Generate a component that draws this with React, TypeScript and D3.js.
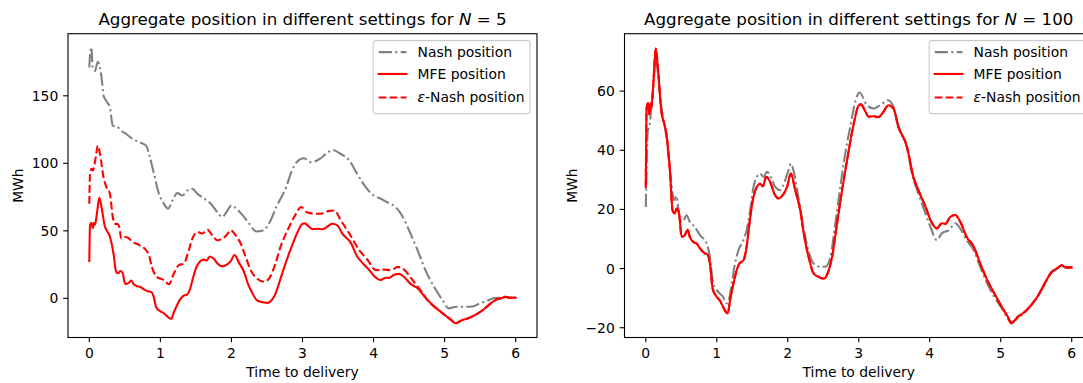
import React, { useMemo } from 'react';
import * as d3 from 'd3';

type Pt = [number, number];

// ---------- data (time to delivery, MWh) ----------
const xTicks = [0, 1, 2, 3, 4, 5, 6];
const yTicksN5 = [0, 50, 100, 150];
const yTicksN100 = [-20, 0, 20, 40, 60];
const xDomain: [number, number] = [-0.3, 6.3];
const yDomainN5: [number, number] = [-29, 196];
const yDomainN100: [number, number] = [-23.3, 79.4];

const mfe: Pt[] = [
  [0, 27.6], [0.01, 54], [0.03, 56], [0.05, 52], [0.065, 56], [0.08, 54.5], [0.11, 64], [0.14, 74.4],
  [0.17, 68], [0.22, 53], [0.26, 49], [0.29, 45.6], [0.34, 33.2], [0.377, 19.7], [0.41, 18.6],
  [0.433, 20.3], [0.466, 19.2], [0.504, 10.7], [0.55, 11.3], [0.59, 13.2], [0.62, 10.7], [0.67, 9.0],
  [0.716, 8.5], [0.763, 6.8], [0.834, 5.1], [0.867, 4.8], [0.904, 1.7], [0.942, -6.8], [1.0, -9.6],
  [1.046, -10.9], [1.09, -13], [1.14, -15], [1.154, -15.2], [1.187, -10.7], [1.234, -5.1], [1.28, -0.6],
  [1.319, 1.7], [1.375, 2.8], [1.42, 7.3], [1.46, 15.2], [1.507, 23.1], [1.564, 27.6], [1.61, 28.7],
  [1.649, 27.8], [1.696, 31], [1.752, 29.3], [1.81, 25.4], [1.87, 23.7], [1.93, 24.8], [1.99, 27.6],
  [2.044, 32.1], [2.105, 26.5], [2.176, 19.7], [2.233, 10.7], [2.294, 3.9], [2.365, -1.7], [2.435, -2.8],
  [2.506, -3.4], [2.577, -0.6], [2.624, 3.9], [2.694, 15.2], [2.765, 26.5], [2.835, 36.6], [2.93, 49],
  [3.0, 55.2], [3.03, 55.5], [3.095, 53], [3.14, 51.3], [3.21, 51.5], [3.28, 51.2], [3.33, 52.4],
  [3.42, 55.2], [3.49, 54.1], [3.56, 47.9], [3.68, 41.1], [3.77, 31], [3.84, 26.5], [3.94, 20.9],
  [4.01, 16.4], [4.1, 13.6], [4.17, 15.3], [4.22, 15.1], [4.29, 17.5], [4.36, 18.1], [4.43, 15.8],
  [4.52, 10.7], [4.62, 7.4], [4.71, 1.8], [4.81, -3.9], [4.91, -8.4], [5.0, -12.3], [5.1, -16.3],
  [5.15, -18.5], [5.24, -16.3], [5.34, -14.6], [5.43, -12.3], [5.53, -9], [5.62, -5], [5.72, -1.1],
  [5.79, 0], [5.86, 1.1], [5.91, 0.4], [6.0, 0.4],
];

const nash5: Pt[] = [
  [0, 171], [0.015, 183], [0.03, 186], [0.045, 172], [0.06, 170], [0.08, 168.4], [0.1, 172], [0.12, 175.2],
  [0.15, 170.8], [0.18, 160], [0.2, 150], [0.24, 146.2], [0.29, 141.3], [0.33, 127.8], [0.38, 127.5],
  [0.45, 124.1], [0.52, 121.7], [0.61, 118], [0.71, 115.5], [0.8, 113.1], [0.84, 106.9], [0.91, 92.2],
  [0.98, 77.4], [1.05, 70], [1.11, 66.4], [1.17, 72.5], [1.24, 77.9], [1.31, 76.2], [1.38, 79.9],
  [1.45, 81.1], [1.52, 77.4], [1.62, 73.8], [1.71, 70], [1.8, 63.9], [1.87, 60.2], [1.93, 63.9],
  [2.0, 68.8], [2.07, 66.4], [2.16, 61.4], [2.25, 55.3], [2.35, 49.5], [2.44, 50.2], [2.54, 56.5],
  [2.63, 67.6], [2.77, 82.3], [2.85, 94.6], [2.92, 101], [3.02, 103.7], [3.12, 100.8], [3.24, 103.2],
  [3.33, 106.9], [3.42, 109.9], [3.54, 106.9], [3.66, 102], [3.77, 92.2], [3.89, 82.3], [4.0, 76.2],
  [4.1, 73.8], [4.19, 71.2], [4.31, 67.6], [4.4, 61.4], [4.52, 47.9], [4.62, 35.6], [4.73, 20.9],
  [4.85, 8.6], [4.97, -1.3], [5.06, -7.4], [5.16, -6.2], [5.27, -6.2], [5.39, -6.0], [5.5, -3.7],
  [5.6, -1.8], [5.7, 0.2], [5.79, 0.5], [5.86, 1.2], [5.91, 0.6], [6.0, 0.6],
];

const epsNash5: Pt[] = [
  [0, 70], [0.01, 92.2], [0.03, 95.9], [0.05, 94.7], [0.07, 98.3], [0.09, 104.4], [0.12, 113.1],
  [0.15, 106.9], [0.2, 89.7], [0.24, 82.3], [0.29, 77.4], [0.33, 60.2], [0.36, 55.3], [0.4, 55],
  [0.42, 53], [0.45, 44.2], [0.5, 45.4], [0.54, 45], [0.61, 41.7], [0.71, 39.3], [0.8, 35.6],
  [0.84, 31.9], [0.88, 23.3], [0.95, 15.9], [1.05, 13.5], [1.12, 10.5], [1.19, 18.4], [1.26, 24.6],
  [1.33, 25.7], [1.4, 35.6], [1.45, 44.2], [1.52, 49.1], [1.59, 48], [1.66, 50.9], [1.73, 46.7],
  [1.8, 43], [1.87, 44.2], [1.93, 46.7], [1.99, 50.4], [2.06, 46.7], [2.13, 40.6], [2.2, 30.7],
  [2.27, 20.9], [2.36, 14.7], [2.46, 12.3], [2.53, 14.7], [2.62, 25.8], [2.69, 38.1], [2.79, 50.4],
  [2.91, 62.7], [2.98, 67.6], [3.07, 63.5], [3.17, 62.7], [3.26, 62.7], [3.36, 64.6], [3.45, 65.1],
  [3.54, 57.7], [3.66, 47.9], [3.8, 35.6], [3.92, 28.2], [4.03, 20.9], [4.13, 21.3], [4.25, 20.9],
  [4.34, 23.3], [4.43, 21.3], [4.55, 13.5], [4.66, 6.1], [4.76, -1.3], [4.86, -6.5], [4.95, -10],
  [5.0, -12.3], [5.1, -16.3], [5.15, -18.5], [5.24, -16.3], [5.34, -14.6], [5.43, -12.3], [5.53, -9],
  [5.62, -5], [5.72, -1.1], [5.79, 0], [5.86, 1.1], [5.91, 0.4], [6.0, 0.4],
];

const nash100: Pt[] = [
  [0, 20.8], [0.01, 32], [0.03, 46.8], [0.05, 47.9], [0.07, 52], [0.09, 57], [0.12, 66], [0.14, 71.5],
  [0.17, 66], [0.22, 54.6], [0.29, 44.5], [0.35, 31], [0.4, 23.1], [0.433, 24.5], [0.48, 16.3],
  [0.518, 15.8], [0.575, 18], [0.62, 15.8], [0.69, 14.1], [0.763, 11.3], [0.857, 8.5], [0.904, 3.9],
  [0.951, -5.1], [1.02, -7.9], [1.09, -9.6], [1.14, -11.8], [1.163, -11.3], [1.21, -5.1], [1.257, 1.7],
  [1.305, 6.2], [1.375, 9.6], [1.42, 13], [1.47, 19.7], [1.517, 27.6], [1.564, 31], [1.61, 32.1],
  [1.66, 31], [1.705, 32.7], [1.76, 31], [1.823, 27.6], [1.893, 26.5], [1.964, 29.9], [2.01, 33.2],
  [2.044, 35.5], [2.08, 33.2], [2.15, 24.2], [2.22, 14.1], [2.29, 6.2], [2.365, 1.7], [2.46, 0.6],
  [2.53, 0.6], [2.6, 3.9], [2.67, 15.2], [2.74, 27.6], [2.81, 38.9], [2.88, 47.9], [2.95, 56.3],
  [3.01, 59.5], [3.117, 55.2], [3.21, 54.1], [3.3, 55.2], [3.41, 56.9], [3.48, 55.2], [3.55, 48.5],
  [3.67, 41.7], [3.76, 31], [3.84, 25.4], [3.94, 18.6], [4.01, 14.1], [4.1, 9.6], [4.17, 11.9],
  [4.27, 13], [4.36, 15.3], [4.43, 13.5], [4.52, 9.6], [4.62, 6.2], [4.71, 0.6], [4.81, -5.1],
  [4.91, -9.6], [5.0, -12.9], [5.1, -16.8], [5.14, -18], [5.24, -16.8], [5.34, -14.8], [5.43, -12.5],
  [5.53, -9.2], [5.62, -5.2], [5.72, -1.3], [5.79, -0.1], [5.86, 1.0], [5.91, 0.3], [6.0, 0.3],
];

// in the N = 100 panel the epsilon-Nash curve lies on top of the MFE curve
const epsNash100: Pt[] = mfe;

const legendLabels = ['Nash position', 'MFE position', '-Nash position'];

// ---------- styling ----------
const FONT = "'DejaVu Sans', sans-serif";
const FS = 13.9;
const TS = 16.7;
const LW = 2.08;
const GRAY = '#808080';
const RED = '#ff0000';
const DASHDOT = '13.3,3.3,2.1,3.3';
const DASHED = '7.7,3.3';
const TICK = 4.86;
const PAD = 4.86;

type Series = { data: Pt[]; color: string; dash?: string };

function measure(text: string, size: number, italic = false): number {
  try {
    const c = document.createElement('canvas');
    const ctx = c.getContext('2d');
    if (ctx) {
      ctx.font = `${italic ? 'italic ' : ''}${size}px 'DejaVu Sans'`;
      return ctx.measureText(text).width;
    }
  } catch (e) { /* ignore */ }
  return text.length * size * 0.55;
}

function Panel(props: {
  x0: number; x1: number; y0: number; y1: number;
  yDomain: [number, number]; yTicks: number[]; series: Series[]; n: number; id: string;
}) {
  const { x0, x1, y0, y1, yDomain, yTicks, series, n, id } = props;
  const xs = d3.scaleLinear().domain(xDomain).range([x0, x1]);
  const ys = d3.scaleLinear().domain(yDomain).range([y1, y0]);
  const line = d3.line<Pt>().x(d => xs(d[0])).y(d => ys(d[1])).curve(d3.curveMonotoneX);
  const fmt = (v: number) => (v < 0 ? '\u2212' + Math.abs(v) : String(v));

  const widest = d3.max(yTicks, t => measure(fmt(t), FS)) || 0;
  const ylabelX = x0 - TICK - PAD - widest - 5.56 - 3.3;

  const textW = measure('ε', FS, true) + measure(legendLabels[2], FS);
  const legW = 3.6 * FS + textW;
  const legR = x1 - 0.5 * FS;
  const legL = legR - legW;
  const legT = y0 + 0.5 * FS;
  const legH = 73;
  const rowC = [legT + 11.5, legT + 33.3, legT + 56.8];
  const hx0 = legL + 0.4 * FS;
  const hx1 = hx0 + 2 * FS;
  const tx = hx1 + 0.8 * FS;
  const handles: Series[] = series;

  return (
    <g>
      <defs>
        <clipPath id={id}>
          <rect x={x0} y={y0} width={x1 - x0} height={y1 - y0} />
        </clipPath>
      </defs>
      <g clipPath={`url(#${id})`}>
        {series.map((s, i) => (
          <path key={i} d={line(s.data) || ''} fill="none" stroke={s.color} strokeWidth={LW}
            strokeDasharray={s.dash} strokeLinejoin="round" strokeLinecap={s.dash ? 'butt' : 'square'} />
        ))}
      </g>
      {/* spines */}
      <rect x={x0} y={y0} width={x1 - x0} height={y1 - y0} fill="none" stroke="#000" strokeWidth={1.1} />
      {/* x ticks */}
      {xTicks.map(t => (
        <g key={t}>
          <line x1={xs(t)} x2={xs(t)} y1={y1} y2={y1 + TICK} stroke="#000" strokeWidth={1.1} />
          <text x={xs(t)} y={y1 + TICK + PAD + 10.4} textAnchor="middle" fontSize={FS} fontFamily={FONT} fill="#000">{fmt(t)}</text>
        </g>
      ))}
      {/* y ticks */}
      {yTicks.map(t => (
        <g key={t}>
          <line x1={x0 - TICK} x2={x0} y1={ys(t)} y2={ys(t)} stroke="#000" strokeWidth={1.1} />
          <text x={x0 - TICK - PAD} y={ys(t) + 5} textAnchor="end" fontSize={FS} fontFamily={FONT} fill="#000">{fmt(t)}</text>
        </g>
      ))}
      <text x={(x0 + x1) / 2} y={y1 + 39.5} textAnchor="middle" fontSize={FS} fontFamily={FONT} fill="#000">Time to delivery</text>
      <text transform={`translate(${ylabelX},${(y0 + y1) / 2}) rotate(-90)`} textAnchor="middle" fontSize={FS} fontFamily={FONT} fill="#000">MWh</text>
      <text x={(x0 + x1) / 2} y={y0 - 8.3} textAnchor="middle" fontSize={TS} fontFamily={FONT} fill="#000">
        Aggregate position in different settings for <tspan fontStyle="italic">N</tspan> = {n}
      </text>
      {/* legend */}
      <rect x={legL} y={legT} width={legW} height={legH} rx={2.8} ry={2.8} fill="#fff" fillOpacity={0.8} stroke="#cccccc" strokeWidth={1.1} />
      {handles.map((s, i) => (
        <g key={i}>
          <line x1={hx0} x2={hx1} y1={rowC[i]} y2={rowC[i]} stroke={s.color} strokeWidth={LW} strokeDasharray={s.dash} strokeLinecap={s.dash ? 'butt' : 'square'} />
          <text x={tx} y={rowC[i] + 5} fontSize={FS} fontFamily={FONT} fill="#000">
            {i === 2 ? <><tspan fontStyle="italic">ε</tspan>{legendLabels[2]}</> : legendLabels[i]}
          </text>
        </g>
      ))}
    </g>
  );
}

export default function App() {
  const s5: Series[] = useMemo(() => [
    { data: nash5, color: GRAY, dash: DASHDOT },
    { data: mfe, color: RED },
    { data: epsNash5, color: RED, dash: DASHED },
  ], []);
  const s100: Series[] = useMemo(() => [
    { data: nash100, color: GRAY, dash: DASHDOT },
    { data: mfe, color: RED },
    { data: epsNash100, color: RED, dash: DASHED },
  ], []);
  return (
    <svg width={1083} height={383} style={{ position: 'absolute', left: 0, top: 0, background: '#fff' }}
      xmlns="http://www.w3.org/2000/svg">
      <rect x={0} y={0} width={1083} height={383} fill="#fff" />
      <Panel x0={68} x1={537} y0={33.7} y1={337.5} yDomain={yDomainN5} yTicks={yTicksN5} series={s5} n={5} id="clipA" />
      <Panel x0={624.5} x1={1093} y0={33.7} y1={337.5} yDomain={yDomainN100} yTicks={yTicksN100} series={s100} n={100} id="clipB" />
    </svg>
  );
}
